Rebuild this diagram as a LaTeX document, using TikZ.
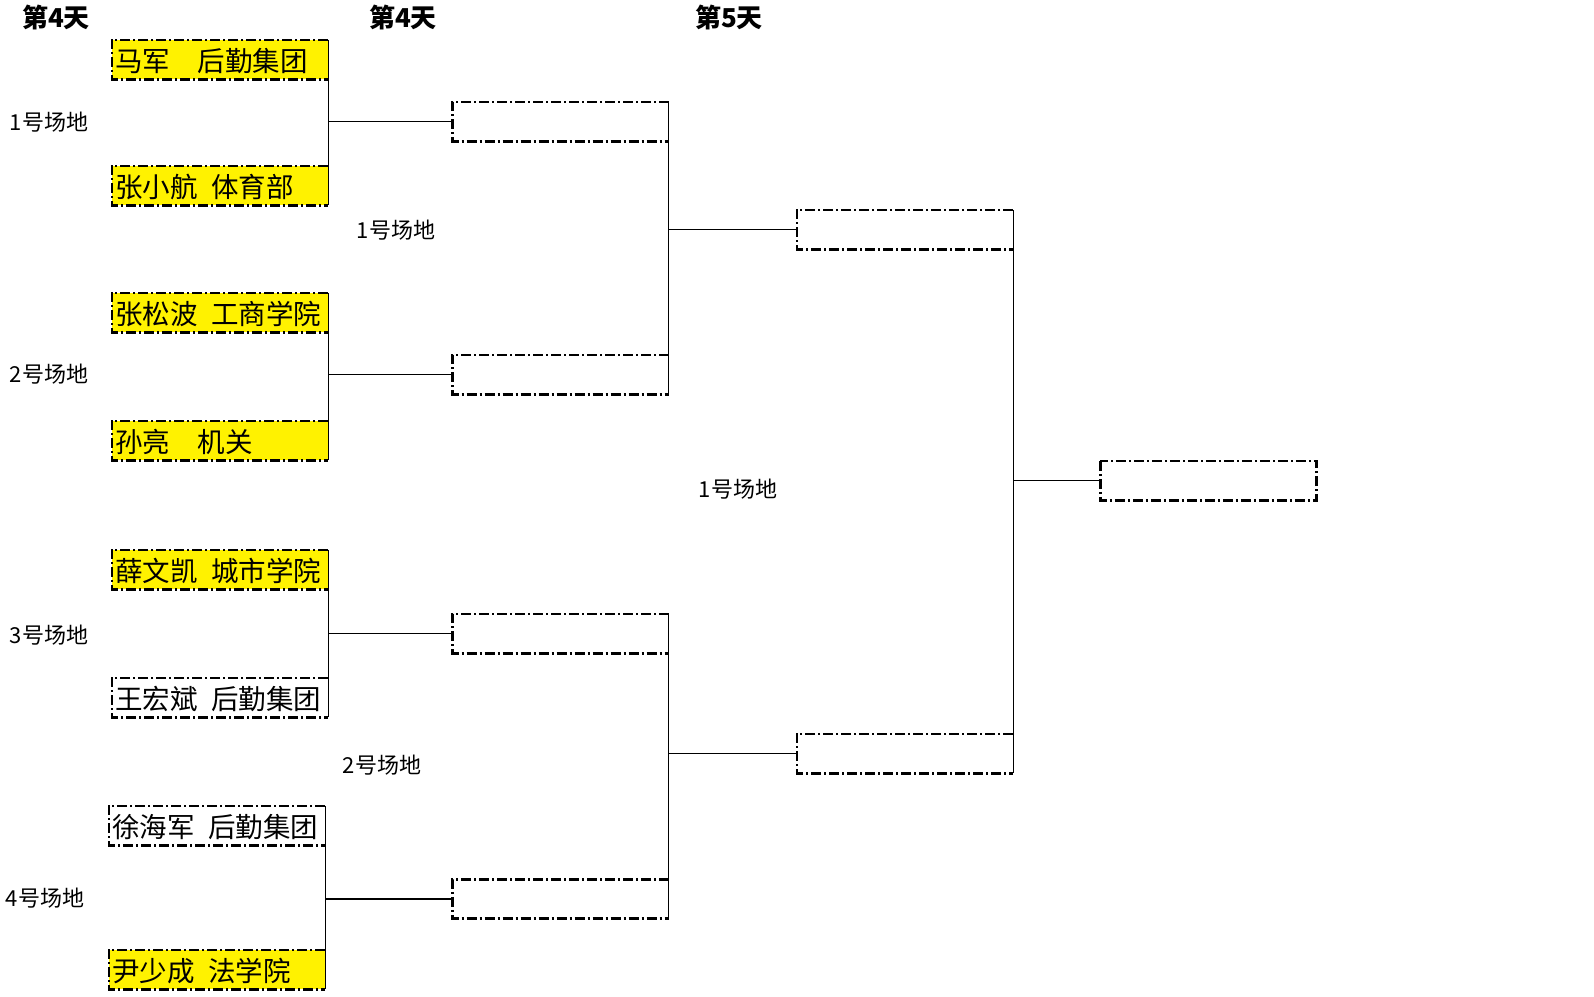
\documentclass[tikz,border=0pt]{standalone}
\usepackage{fontspec}
\newfontfamily\cjk{Noto Sans CJK SC}
\usepackage{xcolor}
\usepackage{tikz}
\usetikzlibrary{positioning}
\newcommand\gap{\kern.5em}

\begin{document}
\begin{tikzpicture}[
  x=1pt, y=-1pt,
  player/.style={fill=yellow, minimum height=39pt, text width=210pt, inner xsep=3pt, inner ysep=0pt, align=left, text height=24pt, text depth=0pt, font=\cjk\fontsize{27.5}{28}\selectfont},
  open/.style={player, fill=white},
  frame/.style={line width=2.6pt, dash pattern=on 10pt off 3pt on 2pt off 3pt},
  link/.style={line width=1.2pt},
  day/.style={font=\cjk\bfseries\fontsize{26}{26}\selectfont, inner sep=0pt},
  venue/.style={font=\cjk\fontsize{22}{22}\selectfont, inner sep=0pt},
]
\useasboundingbox (0,0) rectangle (1594,996);

% Day headers
\node[day] (day1) at (56,17) {第4天};
\node[day] (day2) at (403,17) {第4天};
\node[day] (day3) at (729,17) {第5天};

% Round 1: players
\node[player] (b1) at (220,59.5) {马军　后勤集团};
\node[player] (b2) at (220,185.5) {张小航\gap 体育部};
\node[player] (b3) at (220,312.5) {张松波\gap 工商学院};
\node[player] (b4) at (220,440.5) {孙亮　机关};
\node[player] (b5) at (220,569.5) {薛文凯\gap 城市学院};
\node[open] (b6) at (220,697.5) {王宏斌\gap 后勤集团};
\node[open] (b7) at (217,825.5) {徐海军\gap 后勤集团};
\node[player] (b8) at (217,969.5) {尹少成\gap 法学院};

% Round 1: venues
\node[venue] (f1) at (49,122) {1号场地};
\node[venue] (f2) at (49,374) {2号场地};
\node[venue] (f3) at (49,635) {3号场地};
\node[venue] (f4) at (45,898) {4号场地};

% Round 2
\node[open] (c1) at (560.5,121.5) {};
\node[open] (c2) at (560.5,374.5) {};
\node[open] (c3) at (560.5,633.5) {};
\node[open] (c4) at (560.5,899) {};
\node[venue] (m1) at (396,230) {1号场地};
\node[venue] (m2) at (382,765) {2号场地};

% Round 3 and final
\node[open] (d1) at (905,229.5) {};
\node[open] (d2) at (905,753.5) {};
\node[venue] (m3) at (738,489) {1号场地};
\node[open] (e) at (1208.5,480.5) {};

% Box outlines, right side left open for the brackets
\foreach \n in {b1,b2,b3,b4,b5,b6,b7,b8,c1,c2,c3,c4,d1,d2}
  \draw[frame] (\n.north east) -- (\n.north west) -- (\n.south west) -- (\n.south east);
\draw[frame] (e.north west) rectangle (e.south east);

% Brackets
\draw[link] (b1.north east) -- (b2.south east);
\draw[link] (b3.north east) -- (b4.south east);
\draw[link] (b5.north east) -- (b6.south east);
\draw[link] (b7.north east) -- (b8.south east);
\draw[link] (c1.north east) -- (c2.south east);
\draw[link] (c3.north east) -- (c4.south east);
\draw[link] (d1.north east) -- (d2.south east);

% Connectors
\draw[link] (c1.west -| b1.east) -- (c1.west);
\draw[link] (c2.west -| b3.east) -- (c2.west);
\draw[link] (c3.west -| b5.east) -- (c3.west);
\draw[link] (c4.west -| b7.east) -- (c4.west);
\draw[link] (d1.west -| c1.east) -- (d1.west);
\draw[link] (d2.west -| c3.east) -- (d2.west);
\draw[link] (e.west -| d1.east) -- (e.west);
\end{tikzpicture}
\end{document}
